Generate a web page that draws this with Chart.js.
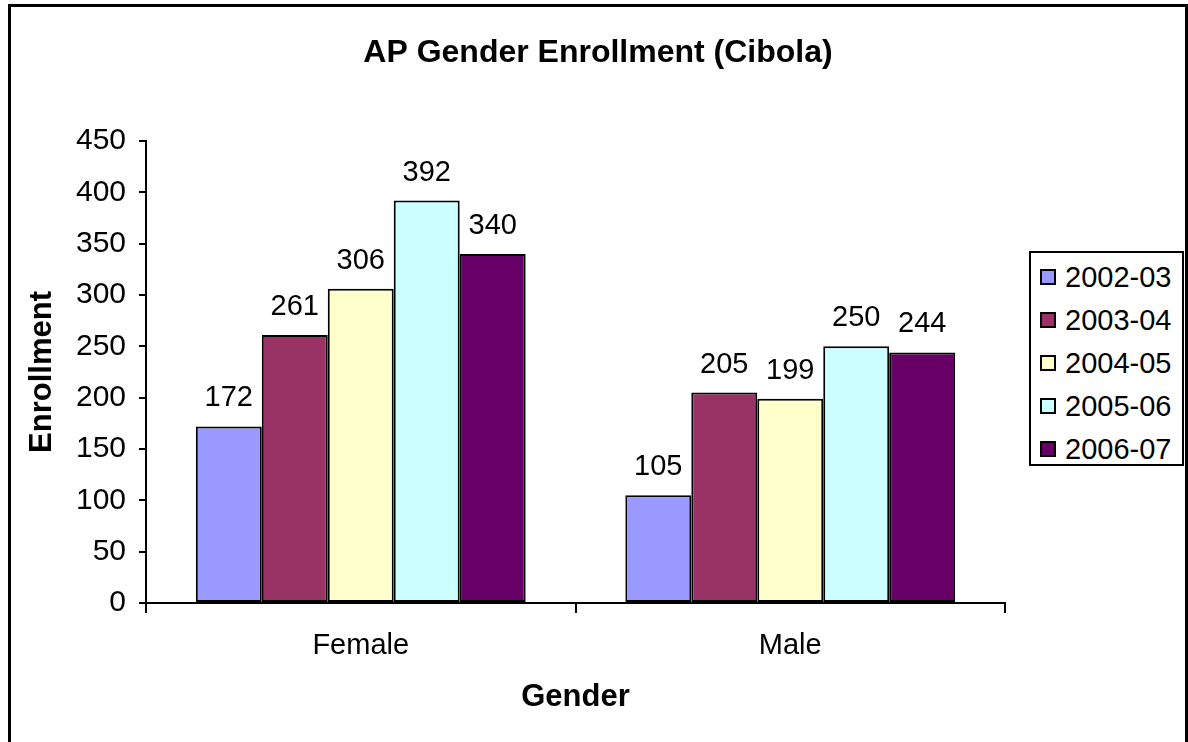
<!DOCTYPE html>
<html>
<head>
<meta charset="utf-8">
<script src="https://cdn.jsdelivr.net/npm/chart.js@4.4.1/dist/chart.umd.min.js"></script>
<style>
body { margin: 0; background: #fff; }
#wrap { position: relative; width: 1188px; height: 742px; overflow: hidden; }
#chart { position: absolute; left: 0; top: 0; }
#frame { position: absolute; left: 8px; top: 4px; width: 1180px; height: 800px; border: 3px solid #000; box-sizing: border-box; pointer-events: none; }
#legend { position: absolute; left: 1029px; top: 251px; width: 155px; height: 215px; border: 2px solid #000; box-sizing: border-box; background: #fff; font: 29px "Liberation Sans", Arial, sans-serif; }
.item { position: absolute; left: 0; height: 34px; width: 150px; }
.box { position: absolute; left: 9px; top: 9px; width: 16px; height: 16px; border: 2px solid #000; box-sizing: border-box; }
.lbl { position: absolute; left: 34px; top: 0; line-height: 34px; color: #000; }
</style>
</head>
<body>
<div id="wrap">
  <canvas id="chart" width="1188" height="742"></canvas>
  <div id="frame"></div>
  <div id="legend"></div>
</div>
<script>
// datos del gráfico
const chartTitle = "AP Gender Enrollment (Cibola)";
const categories = ["Female", "Male"];
const seriesNames = ["2002-03", "2003-04", "2004-05", "2005-06", "2006-07"];
const y2002 = [172, 105];
const y2003 = [261, 205];
const y2004 = [306, 199];
const y2005 = [392, 250];
const y2006 = [340, 244];
const seriesColors = ["#9999FF", "#993366", "#FFFFCC", "#CCFFFF", "#660066"];
const yMin = 0, yMax = 450, yStep = 50;

const allSeries = [y2002, y2003, y2004, y2005, y2006];
const FONT = '"Liberation Sans", Arial, sans-serif';

// título centrado en todo el lienzo
const titlePlugin = {
    id: "wideTitle",
    afterDraw(chart) {
        const ctx = chart.ctx;
        ctx.save();
        ctx.font = "bold 32px " + FONT;
        ctx.fillStyle = "#000";
        ctx.textAlign = "center";
        ctx.textBaseline = "alphabetic";
        ctx.fillText(chartTitle, 598, 62);
        ctx.restore();
    }
};

// etiquetas encima de cada barra
const barLabels = {
    id: "barLabels",
    afterDatasetsDraw(chart) {
        const ctx = chart.ctx;
        ctx.save();
        ctx.font = "29px " + FONT;
        ctx.fillStyle = "#000";
        ctx.textAlign = "center";
        ctx.textBaseline = "middle";
        chart.data.datasets.forEach((ds, i) => {
            chart.getDatasetMeta(i).data.forEach((bar, j) => {
                ctx.fillText(String(ds.data[j]), bar.x, bar.y - 28);
            });
        });
        ctx.restore();
    }
};

const ctx = document.getElementById("chart").getContext("2d");
const chart = new Chart(ctx, {
    type: "bar",
    data: {
        labels: categories,
        datasets: allSeries.map((d, i) => ({
            label: seriesNames[i],
            data: d,
            backgroundColor: seriesColors[i],
            borderColor: "#000",
            borderWidth: 2,
            borderSkipped: false,
            categoryPercentage: 0.768,
            barPercentage: 1.0
        }))
    },
    options: {
        responsive: false,
        animation: false,
        layout: { padding: { left: 0, right: 183, top: 141, bottom: 0 } },
        plugins: {
            legend: { display: false },
            tooltip: { enabled: false },
            title: { display: false }
        },
        scales: {
            x: {
                afterFit: s => { s.height = 139; },
                grid: { offset: true, drawOnChartArea: false, tickLength: 10, color: "#000", lineWidth: 2 },
                border: { display: true, color: "#000", width: 2 },
                ticks: { color: "#000", font: { family: FONT, size: 29 }, padding: 16 },
                title: {
                    display: true,
                    text: "Gender",
                    color: "#000",
                    font: { family: FONT, size: 31, weight: "bold" },
                    padding: { top: 0, bottom: 26 }
                }
            },
            y: {
                min: yMin,
                max: yMax,
                afterFit: s => { s.width = 146; },
                grid: { drawOnChartArea: false, tickLength: 7, color: "#000", lineWidth: 2 },
                border: { display: true, color: "#000", width: 2 },
                ticks: { stepSize: yStep, color: "#000", font: { family: FONT, size: 30 }, padding: 13 },
                title: {
                    display: true,
                    text: "Enrollment",
                    color: "#000",
                    font: { family: FONT, size: 31, weight: "bold" },
                    padding: { top: 24, bottom: 0 }
                }
            }
        }
    },
    plugins: [barLabels, titlePlugin]
});

// leyenda con recuadro
const legend = document.getElementById("legend");
seriesNames.forEach((name, i) => {
    const item = document.createElement("div");
    item.className = "item";
    item.style.top = (7 + i * 43) + "px";
    item.innerHTML = `<div class="box" style="background:${seriesColors[i]}"></div><div class="lbl">${name}</div>`;
    legend.appendChild(item);
});
</script>
</body>
</html>
